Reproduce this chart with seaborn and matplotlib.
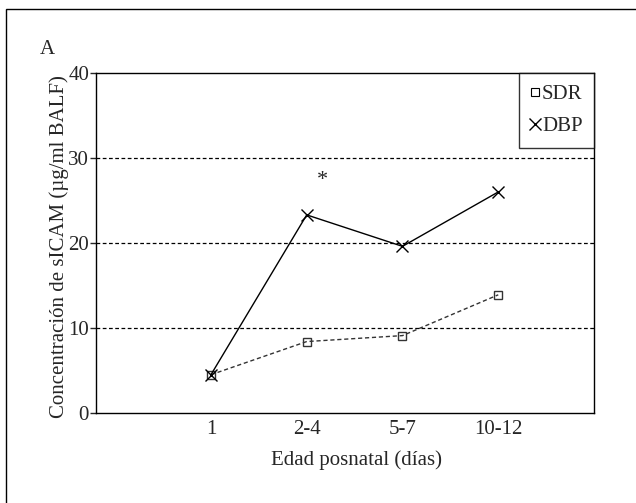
import pandas as pd
import matplotlib
matplotlib.use("Agg")
import matplotlib.pyplot as plt
import seaborn as sns
from matplotlib.lines import Line2D
from matplotlib.patches import Rectangle

# --- data ---
edades = ["1", "2-4", "5-7", "10-12"]
sdr = [4.5, 8.4, 9.1, 13.9]
dbp = [4.5, 23.3, 19.6, 26.0]
y_ticks = [0, 10, 20, 30, 40]

df = pd.DataFrame({
    "edad": edades * 2,
    "valor": sdr + dbp,
    "grupo": ["SDR"] * len(sdr) + ["DBP"] * len(dbp),
})

sns.set_style("white")
plt.rcParams["font.family"] = ["Liberation Serif", "DejaVu Serif"]
plt.rcParams["font.size"] = 15

fig = plt.figure(figsize=(6.36, 5.03), dpi=100)
ax = fig.add_axes([0.151, 0.179, 0.783, 0.676])

sns.lineplot(
    data=df[df["grupo"] == "SDR"], x="edad", y="valor", ax=ax,
    color="#333333", linestyle=(0, (3, 2)), lw=1,
    marker="s", markersize=6, markerfacecolor="none",
    markeredgecolor="#333333", markeredgewidth=1, sort=False,
)
sns.lineplot(
    data=df[df["grupo"] == "DBP"], x="edad", y="valor", ax=ax,
    color="black", lw=1,
    marker="x", markersize=9, markeredgecolor="black",
    markeredgewidth=1, sort=False,
)

ax.set_xlim(-1.2, 4.0)
ax.set_ylim(0, 40)
ax.set_yticks(y_ticks)
for v in y_ticks[1:-1]:
    ax.axhline(v, color="black", lw=0.9, linestyle=(0, (3, 2)), zorder=0)

for s in ax.spines.values():
    s.set_visible(True)
    s.set_color("black")
    s.set_linewidth(1)

ax.tick_params(axis="y", left=True, length=4, width=1, pad=1, labelsize=15)
ax.tick_params(axis="x", bottom=False, length=0, pad=5, labelsize=15)

ax.set_xlabel("Edad posnatal (días)", fontsize=15)
ax.xaxis.set_label_coords(0.524, -0.109)
ax.set_ylabel("Concentración de sICAM (µg/ml BALF)", fontsize=15)
ax.yaxis.set_label_coords(-0.055, 0.49)

ax.text(1.16, 27.3, "*", ha="center", va="center", fontsize=16)

handles = [
    Line2D([], [], linestyle="none", marker="s", markersize=5.5,
           markerfacecolor="none", markeredgecolor="black", markeredgewidth=0.8),
    Line2D([], [], linestyle="none", marker="x", markersize=8,
           markeredgecolor="black", markeredgewidth=1),
]
leg = ax.legend(handles, ["SDR", "DBP"], loc="upper right", frameon=True,
                fancybox=False, borderaxespad=0, handlelength=0.4,
                handletextpad=0.15, borderpad=0.55, labelspacing=0.6,
                fontsize=15)
leg.get_frame().set_edgecolor("black")
leg.get_frame().set_linewidth(1)

fig.text(40 / 636, 1 - 49 / 503, "A", fontsize=15, ha="left", va="center")

# outer panel frame (only top/left edges fall inside the image)
fig.patches.append(Rectangle((6 / 636, -0.1), 1.2, 1.1 - 9 / 503,
                             transform=fig.transFigure, fill=False,
                             edgecolor="black", lw=1))

fig.savefig("out.png", dpi=100)
